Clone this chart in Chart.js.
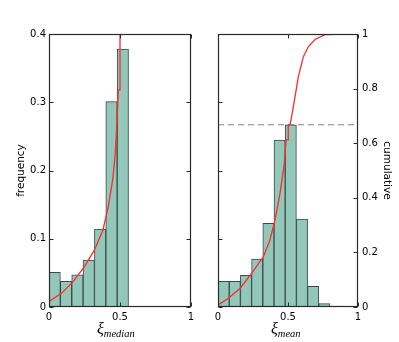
<!DOCTYPE html>
<html>
<head>
<meta charset="utf-8">
<script src="https://cdn.jsdelivr.net/npm/chart.js@4.4.1/dist/chart.umd.min.js"></script>
<style>
  body { margin: 0; background: #fff; width: 399px; height: 342px; position: relative; overflow: hidden; }
  #leftChart { position: absolute; left: 0; top: 0; }
  #rightChart { position: absolute; left: 200px; top: 0; }
  .xlab { position: absolute; top: 321px; font-family: "Liberation Serif", serif; font-style: italic; font-size: 16px;
          white-space: nowrap; line-height: 1; color: #000; }
  .xlab sub { font-size: 10.5px; vertical-align: -3px; }
</style>
</head>
<body>
<canvas id="leftChart" width="200" height="342"></canvas>
<canvas id="rightChart" width="199" height="342"></canvas>
<div class="xlab" style="left:97px">ξ<sub>median</sub></div>
<div class="xlab" style="left:271px">ξ<sub>mean</sub></div>
<script>
// histogram bins (width 0.08), centres
const medianBins = [0.04, 0.12, 0.20, 0.28, 0.36, 0.44, 0.52];
const medianFreq = [0.0508, 0.0377, 0.0473, 0.0689, 0.1143, 0.3008, 0.378];
const meanBins = [0.04, 0.12, 0.20, 0.28, 0.36, 0.44, 0.52, 0.60, 0.68, 0.76, 0.84, 0.92];
const meanFreq = [0.0377, 0.0377, 0.0464, 0.0703, 0.1226, 0.2447, 0.267, 0.129, 0.0303, 0.0049, 0.0015, 0.001];

// cumulative curves
const medianCumX = [0, 0.088, 0.17, 0.25, 0.32, 0.38, 0.417, 0.448, 0.465, 0.476, 0.488, 0.5, 0.5];
const medianCumY = [0.02, 0.05, 0.093, 0.148, 0.209, 0.282, 0.367, 0.465, 0.55, 0.648, 0.795, 0.795, 1.0];
const meanCumX = [0, 0.074, 0.157, 0.24, 0.324, 0.371, 0.407, 0.443, 0.474, 0.486, 0.502, 0.502, 0.514, 0.526, 0.55, 0.574, 0.61, 0.645, 0.693, 0.764, 0.93];
const meanCumY = [0.007, 0.032, 0.068, 0.123, 0.184, 0.245, 0.319, 0.416, 0.526, 0.612, 0.612, 0.667, 0.667, 0.697, 0.77, 0.844, 0.917, 0.953, 0.98, 0.998, 1.0];

const xTicks = [0, 0.5, 1];
const freqTicks = [0, 0.1, 0.2, 0.3, 0.4];
const cumTicks = [0, 0.2, 0.4, 0.6, 0.8, 1];

const barFill = '#92c7b9';
const barEdge = '#3b4a46';
const red = '#ff2a2a';

const pts = (xs, ys) => xs.map((x, i) => ({ x: x, y: ys[i] }));
const plain = v => String(Math.round(v * 100) / 100);

// box + inward ticks like matplotlib
const framePlugin = {
  id: 'frame',
  afterDatasetsDraw(chart, args, opts) {
    const { ctx, chartArea: a, scales } = chart;
    const L = Math.round(a.left) + 0.5, R = Math.round(a.right) - 0.5;
    const T = Math.round(a.top) + 0.5, B = Math.round(a.bottom) - 0.5;
    ctx.save();
    ctx.strokeStyle = '#2a2a2a';
    ctx.lineWidth = 1.2;
    ctx.strokeRect(L, T, R - L, B - T);
    ctx.lineWidth = 1;
    ctx.beginPath();
    xTicks.forEach(v => {
      const px = Math.round(scales.x.getPixelForValue(v)) + 0.5;
      ctx.moveTo(px, B); ctx.lineTo(px, B - 4);
      ctx.moveTo(px, T); ctx.lineTo(px, T + 4);
    });
    opts.leftTicks.forEach(v => {
      const py = Math.round(scales[opts.leftAxis].getPixelForValue(v)) + 0.5;
      ctx.moveTo(L, py); ctx.lineTo(L + 4, py);
    });
    opts.rightTicks.forEach(v => {
      const py = Math.round(scales[opts.rightAxis].getPixelForValue(v)) + 0.5;
      ctx.moveTo(R, py); ctx.lineTo(R - 4, py);
    });
    ctx.stroke();
    ctx.restore();
  }
};

const tickFont = { family: 'DejaVu Sans', size: 10 };
const titleFont = { family: 'DejaVu Sans', size: 10.5 };

function xScale() {
  return {
    type: 'linear', min: 0, max: 1, offset: false,
    afterBuildTicks: s => { s.ticks = xTicks.map(v => ({ value: v })); },
    afterFit: s => { s.height = 35; },
    grid: { display: false, drawTicks: false },
    border: { display: false },
    ticks: { font: tickFont, color: '#000', padding: 4, maxRotation: 0, callback: plain }
  };
}

function barSet(bins, freq) {
  return {
    type: 'bar', data: pts(bins, freq), yAxisID: 'y',
    backgroundColor: barFill, borderColor: barEdge, borderWidth: 1,
    borderSkipped: false, barPercentage: 1, categoryPercentage: 1, order: 3
  };
}

function curveSet(xs, ys) {
  return {
    type: 'line', data: pts(xs, ys), yAxisID: 'y2',
    borderColor: red, borderWidth: 1.3, pointRadius: 0, tension: 0, fill: false, order: 1
  };
}

Chart.defaults.animation = false;

new Chart(document.getElementById('leftChart'), {
  type: 'bar',
  data: { datasets: [barSet(medianBins, medianFreq), curveSet(medianCumX, medianCumY)] },
  options: {
    responsive: false,
    layout: { padding: { top: 34, right: 9, left: 0, bottom: 0 } },
    plugins: {
      legend: { display: false }, tooltip: { enabled: false },
      frame: { leftAxis: 'y', leftTicks: freqTicks, rightAxis: 'y', rightTicks: freqTicks }
    },
    scales: {
      x: xScale(),
      y: {
        min: 0, max: 0.4, position: 'left',
        afterBuildTicks: s => { s.ticks = freqTicks.map(v => ({ value: v })); },
        afterFit: s => { s.width = 49; },
        grid: { display: false, drawTicks: false },
        border: { display: false },
        ticks: { font: tickFont, color: '#000', padding: 3, callback: plain },
        title: { display: true, text: 'frequency', font: titleFont, color: '#000', padding: { top: 15, bottom: 0 } }
      },
      y2: { min: 0, max: 1, display: false }
    }
  },
  plugins: [framePlugin]
});

const meanMax = Math.max(...meanFreq);

new Chart(document.getElementById('rightChart'), {
  type: 'bar',
  data: {
    datasets: [
      barSet(meanBins, meanFreq),
      curveSet(meanCumX, meanCumY),
      {
        type: 'line', data: [{ x: 0, y: meanMax }, { x: 1, y: meanMax }], yAxisID: 'y',
        borderColor: '#808080', borderWidth: 1, borderDash: [6, 4], pointRadius: 0, order: 2
      }
    ]
  },
  options: {
    responsive: false,
    layout: { padding: { top: 34, right: 0, left: 18, bottom: 0 } },
    plugins: {
      legend: { display: false }, tooltip: { enabled: false },
      frame: { leftAxis: 'y', leftTicks: freqTicks, rightAxis: 'y2', rightTicks: cumTicks }
    },
    scales: {
      x: xScale(),
      y: { min: 0, max: 0.4, display: false },
      y2: {
        min: 0, max: 1, position: 'right',
        afterBuildTicks: s => { s.ticks = cumTicks.map(v => ({ value: v })); },
        afterFit: s => { s.width = 41; },
        grid: { display: false, drawTicks: false },
        border: { display: false },
        ticks: { font: tickFont, color: '#000', padding: 4, callback: plain },
        title: { display: true, text: 'cumulative', font: titleFont, color: '#000', padding: { top: 6, bottom: 0 } }
      }
    }
  },
  plugins: [framePlugin]
});
</script>
</body>
</html>
